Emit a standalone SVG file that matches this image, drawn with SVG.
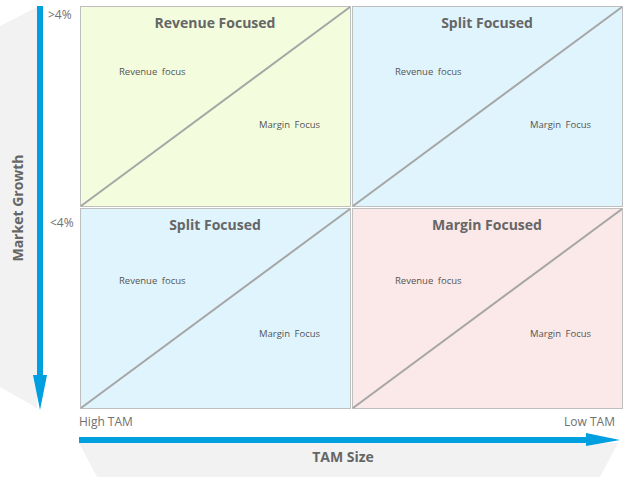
<svg xmlns="http://www.w3.org/2000/svg" width="624" height="477" viewBox="0 0 624 477">
<style>
.box{stroke:#bfbfbf;stroke-width:1}
.diag{stroke:#a6a6a6;stroke-width:2;fill:none}
.title{font-family:"Open Sans","Noto Sans",sans-serif;font-weight:bold;font-size:14px;fill:#666;text-anchor:middle}
.small{font-family:"Open Sans","Noto Sans",sans-serif;font-size:9.5px;fill:#555;word-spacing:2px}
.axis{font-family:"Open Sans","Noto Sans",sans-serif;font-size:12px;fill:#707070}
.axt{font-family:"Open Sans","Noto Sans",sans-serif;font-weight:bold;font-size:14px;fill:#666;text-anchor:middle}
.arrow{fill:#009fe0}
</style>
<g id="background">
<polygon points="0,26 37,7 37,408 0,387" fill="#f2f2f2"/>
<polygon points="79,443 618,443 600,477 97,477" fill="#f2f2f2"/>
</g>
<g id="q-revenue-focused">
<rect class="box" x="80.5" y="6.5" width="270" height="200" fill="#f3fcdd"/>
<line class="diag" x1="81" y1="206" x2="350" y2="7"/>
<text class="title" x="215" y="28">Revenue Focused</text>
<text class="small" x="119" y="75">Revenue focus</text>
<text class="small" x="259" y="128">Margin Focus</text>
</g>
<g id="q-split-focused-top">
<rect class="box" x="352.5" y="6.5" width="270" height="200" fill="#e0f4fd"/>
<line class="diag" x1="353" y1="206" x2="622" y2="7"/>
<text class="title" x="487" y="28">Split Focused</text>
<text class="small" x="395" y="75">Revenue focus</text>
<text class="small" x="530" y="128">Margin Focus</text>
</g>
<g id="q-split-focused-bottom">
<rect class="box" x="80.5" y="208.5" width="270" height="200" fill="#e0f4fd"/>
<line class="diag" x1="81" y1="408" x2="350" y2="209"/>
<text class="title" x="215" y="230">Split Focused</text>
<text class="small" x="119" y="284">Revenue focus</text>
<text class="small" x="259" y="337">Margin Focus</text>
</g>
<g id="q-margin-focused">
<rect class="box" x="352.5" y="208.5" width="270" height="200" fill="#fbe8e8"/>
<line class="diag" x1="353" y1="408" x2="622" y2="209"/>
<text class="title" x="487" y="230">Margin Focused</text>
<text class="small" x="395" y="284">Revenue focus</text>
<text class="small" x="530" y="337">Margin Focus</text>
</g>
<g id="connectors">
<rect class="arrow" x="37" y="6" width="6" height="370"/>
<polygon class="arrow" points="33,375 47,375 40,410"/>
<rect class="arrow" x="79" y="437" width="508" height="6"/>
<polygon class="arrow" points="586,433 586,446 620,440"/>
</g>
<g id="labels">
<text class="axis" x="48" y="19" font-size="11">&gt;4%</text>
<text class="axis" x="50" y="227" font-size="11">&lt;4%</text>
<text class="axis" x="79" y="426">High TAM</text>
<text class="axis" x="615" y="426" text-anchor="end">Low TAM</text>
<text class="axt" x="343" y="462">TAM Size</text>
<text class="axt" transform="translate(23,208) rotate(-90)">Market Growth</text>
</g>
</svg>
